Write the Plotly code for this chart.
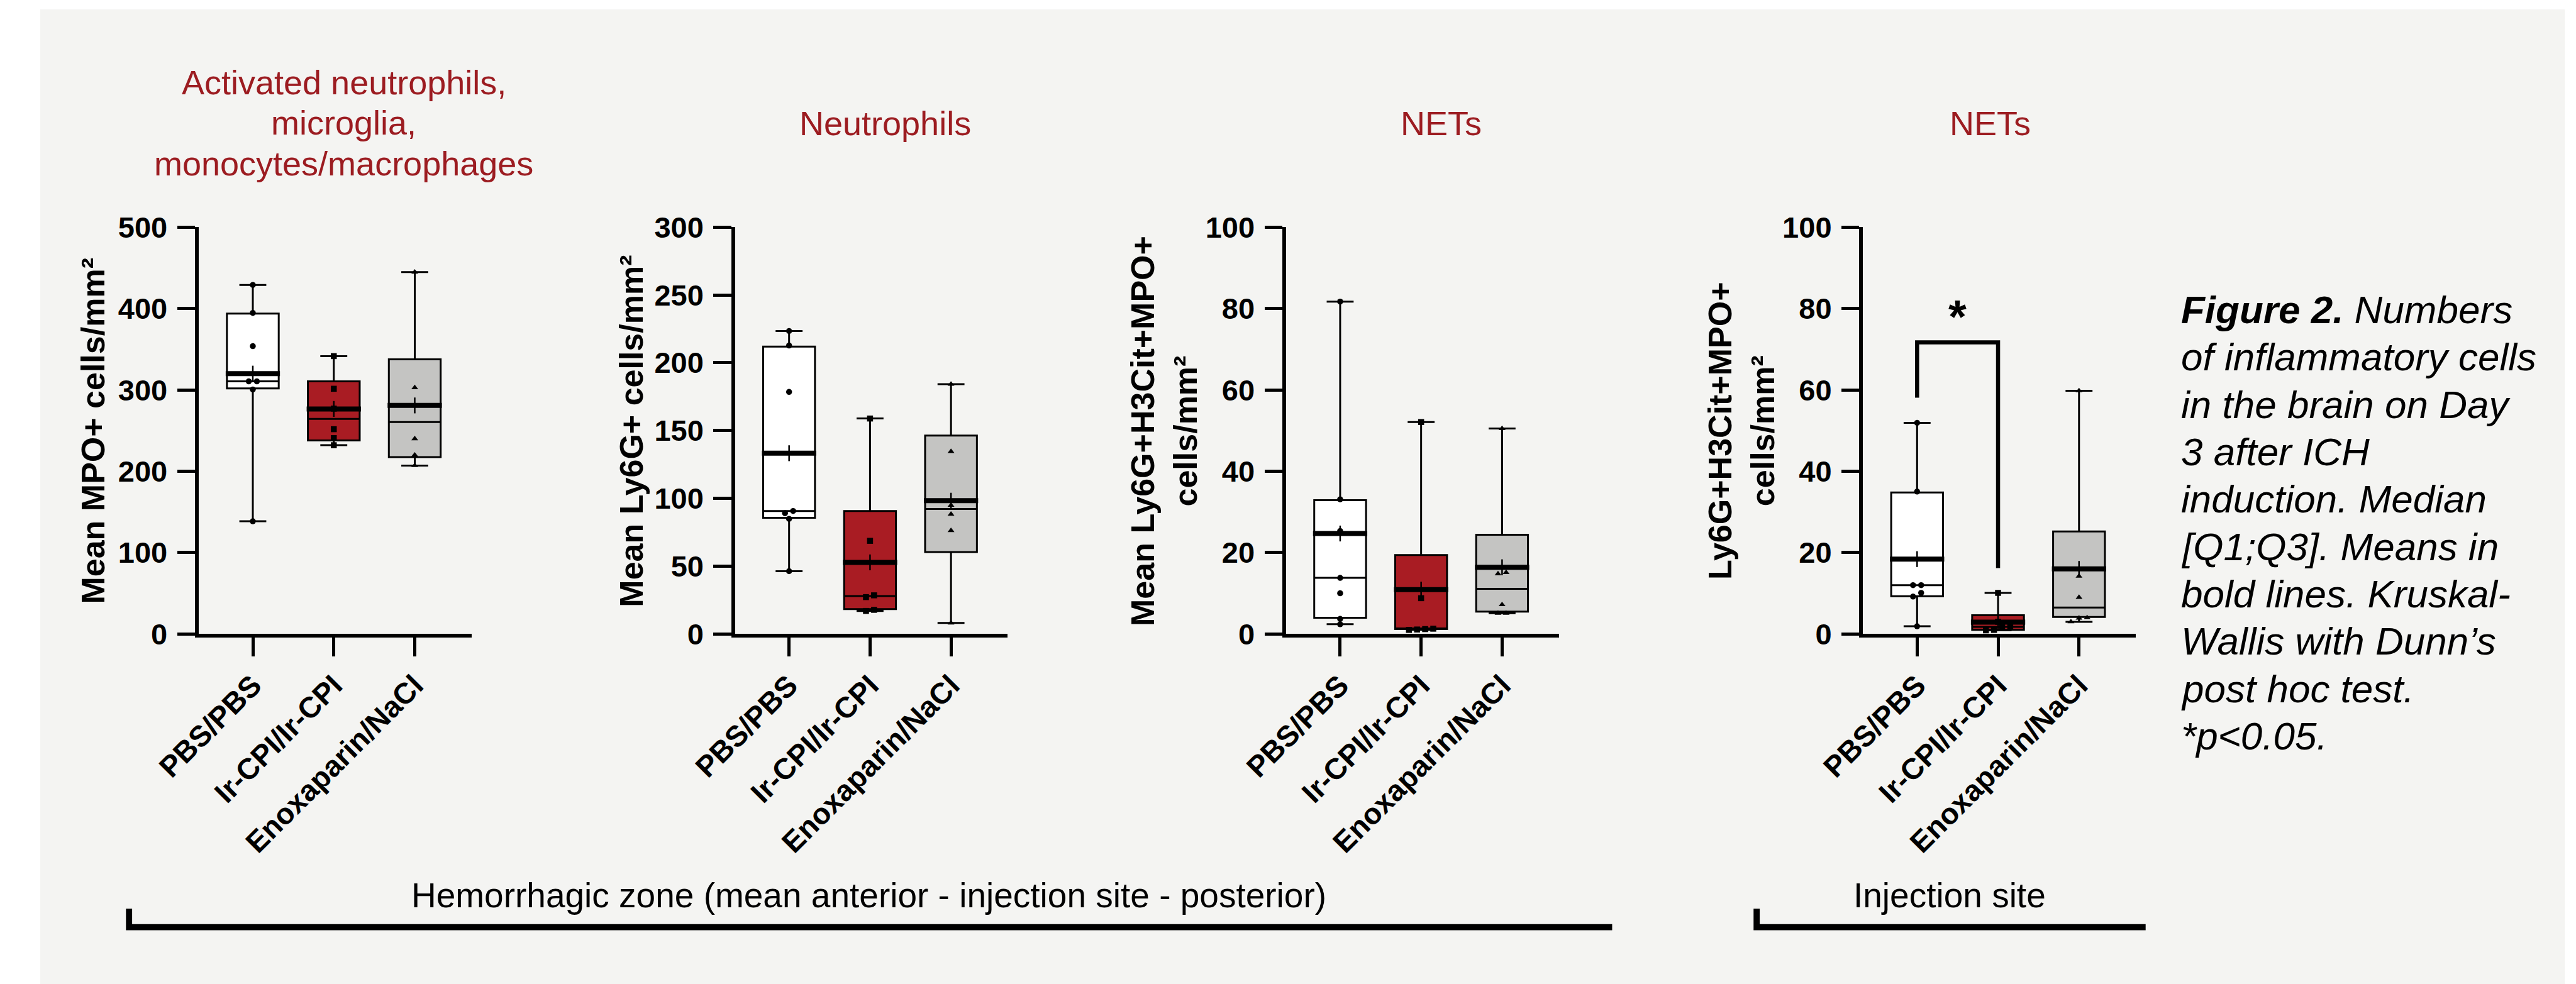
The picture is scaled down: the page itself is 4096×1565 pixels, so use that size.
import plotly.graph_objects as go

# ---------------- data ----------------
categories = ["PBS/PBS", "Ir-CPI/Ir-CPI", "Enoxaparin/NaCl"]

# Panel 1: Mean MPO+ cells/mm2 (hemorrhagic zone)
mpo_q1 = [301.8, 237.8, 217.3]
mpo_median = [310.5, 264.4, 260.5]
mpo_q3 = [393.7, 310.5, 337.5]
mpo_low = [138.5, 232.0, 206.9]
mpo_high = [429.0, 341.5, 444.7]
mpo_mean = [320.0, 276.6, 280.9]
mpo_pbs = [429.0, 394.6, 353.7, 310.5, 310.5, 300.5, 138.5]
mpo_ircpi = [341.5, 301.4, 277.0, 251.7, 240.8, 232.0]
mpo_enox = [444.7, 302.7, 281.0, 240.0, 220.0, 207.0]

# Panel 2: Mean Ly6G+ cells/mm2
ly6g_q1 = [85.7, 18.3, 60.4]
ly6g_median = [90.7, 28.0, 92.2]
ly6g_q3 = [211.9, 90.7, 146.3]
ly6g_low = [46.3, 17.0, 8.1]
ly6g_high = [223.4, 158.9, 184.2]
ly6g_mean = [133.3, 52.8, 98.3]
ly6g_pbs = [223.4, 212.7, 178.5, 90.7, 89.1, 84.9, 46.3]
ly6g_ircpi = [158.9, 68.7, 28.5, 27.2, 17.8, 17.0]
ly6g_enox = [184.2, 134.6, 94.9, 88.3, 76.3, 8.1]

# Panel 3: Mean Ly6G+H3Cit+MPO+ cells/mm2 (hemorrhagic zone)
nets_q1 = [4.0, 1.2, 5.5]
nets_median = [13.8, 1.3, 11.1]
nets_q3 = [32.9, 19.4, 24.4]
nets_low = [2.4, 1.0, 5.1]
nets_high = [81.7, 52.1, 50.5]
nets_mean = [24.7, 10.9, 16.4]
nets_pbs = [81.7, 33.1, 25.3, 13.8, 10.0, 3.7, 2.4]
nets_ircpi = [52.1, 8.8, 1.3, 1.2, 1.1, 1.0]
nets_enox = [50.5, 15.1, 14.8, 7.2, 5.1, 5.1]

# Panel 4: Ly6G+H3Cit+MPO+ cells/mm2 (injection site)
inj_q1 = [9.3, 1.0, 4.2]
inj_median = [12.0, 1.75, 6.5]
inj_q3 = [34.8, 4.6, 25.2]
inj_low = [1.9, 0.9, 3.0]
inj_high = [51.9, 10.1, 59.8]
inj_mean = [18.4, 2.9, 16.0]
inj_pbs = [51.9, 35.0, 12.0, 12.0, 10.1, 9.2, 1.9]
inj_ircpi = [10.1, 3.0, 1.8, 1.7, 1.0, 0.9]
inj_enox = [59.8, 14.2, 9.0, 4.0, 3.9, 3.0]

# significance bracket (PBS vs Ir-CPI, injection site)
sig_left_y = 58.1
sig_top_y = 71.7
sig_right_y = 16.2
sig_star_y = 78.0

titles = [["Activated neutrophils,", "microglia,", "monocytes/macrophages"],
          ["Neutrophils"], ["NETs"], ["NETs"]]
ytitles = ["Mean MPO+ cells/mm²", "Mean Ly6G+ cells/mm²",
           "Mean Ly6G+H3Cit+MPO+<br>cells/mm²", "Ly6G+H3Cit+MPO+<br>cells/mm²"]
ymax = [500, 300, 100, 100]
ydtick = [100, 50, 20, 20]

caption_lines = ["<b>Figure 2.</b> Numbers", "of inflammatory cells",
                 "in the brain on Day", "3 after ICH", "induction. Median",
                 "[Q1;Q3]. Means in", "bold lines. Kruskal-",
                 "Wallis with Dunn’s", "post hoc test.", "*p&lt;0.05."]

panels = [
    dict(q1=mpo_q1, med=mpo_median, q3=mpo_q3, lo=mpo_low, hi=mpo_high, mean=mpo_mean,
         pts=[mpo_pbs, mpo_ircpi, mpo_enox]),
    dict(q1=ly6g_q1, med=ly6g_median, q3=ly6g_q3, lo=ly6g_low, hi=ly6g_high, mean=ly6g_mean,
         pts=[ly6g_pbs, ly6g_ircpi, ly6g_enox]),
    dict(q1=nets_q1, med=nets_median, q3=nets_q3, lo=nets_low, hi=nets_high, mean=nets_mean,
         pts=[nets_pbs, nets_ircpi, nets_enox]),
    dict(q1=inj_q1, med=inj_median, q3=inj_q3, lo=inj_low, hi=inj_high, mean=inj_mean,
         pts=[inj_pbs, inj_ircpi, inj_enox]),
]

# ---------------- styling / layout ----------------
REF_W, REF_H = 4172, 1594
FIG_W, FIG_H = 4096, 1565
FONT = "Liberation Sans, Arial, Helvetica, sans-serif"
RED_TITLE = "#9c1c21"
fills = ["#ffffff", "#a91c23", "#c4c4c2"]
symbols = ["circle", "square", "triangle-up"]
BG = "#f4f4f2"


def px(x):
    return x / REF_W


def py(y):
    return 1 - y / REF_H


axis_x0 = [322, 1190.5, 2083, 3017.4]
axis_w = 441.5
y_zero_px, y_top_px = 1027, 368
xr = [-0.667, 2.70]

fig = go.Figure()
layout = dict(
    template="none",
    width=FIG_W, height=FIG_H, autosize=False,
    margin=dict(l=0, r=0, t=0, b=0, pad=0, autoexpand=False),
    paper_bgcolor="white", plot_bgcolor="rgba(0,0,0,0)",
    showlegend=False, boxmode="overlay",
    font=dict(family=FONT, color="black"),
)


def spread(vals, ytop):
    """x offsets so that near-equal values sit side by side."""
    order = sorted(range(len(vals)), key=lambda k: vals[k])
    offs = [0.0] * len(vals)
    groups, cur = [], [order[0]]
    for k in order[1:]:
        if abs(vals[k] - vals[cur[-1]]) < 0.012 * ytop:
            cur.append(k)
        else:
            groups.append(cur)
            cur = [k]
    groups.append(cur)
    step = 0.1
    for g in groups:
        n = len(g)
        for j, k in enumerate(g):
            offs[k] = (j - (n - 1) / 2) * step
    return offs


annotations = []
shapes = []

for p, pan in enumerate(panels):
    sfx = "" if p == 0 else str(p + 1)
    xa, ya = "x" + sfx, "y" + sfx
    for i in range(3):
        fig.add_trace(go.Box(
            x=[i], q1=[pan["q1"][i]], median=[pan["med"][i]], q3=[pan["q3"][i]],
            lowerfence=[pan["lo"][i]], upperfence=[pan["hi"][i]],
            width=0.64, whiskerwidth=0.52, fillcolor=fills[i],
            line=dict(color="black", width=3), boxpoints=False,
            xaxis=xa, yaxis=ya, hoverinfo="skip"))
    # mean (bold) lines
    mx, my = [], []
    for i in range(3):
        mx += [i - 0.335, i + 0.335, None]
        my += [pan["mean"][i], pan["mean"][i], None]
    fig.add_trace(go.Scatter(x=mx, y=my, mode="lines",
                             line=dict(color="black", width=8),
                             xaxis=xa, yaxis=ya, hoverinfo="skip", cliponaxis=False))
    fig.add_trace(go.Scatter(x=[0, 1, 2], y=pan["mean"], mode="markers",
                             marker=dict(symbol="line-ns", size=18,
                                         line=dict(color="black", width=2.5)),
                             xaxis=xa, yaxis=ya, hoverinfo="skip", cliponaxis=False))
    # individual points
    for i in range(3):
        vals = pan["pts"][i]
        offs = spread(vals, ymax[p])
        fig.add_trace(go.Scatter(
            x=[i + o for o in offs], y=vals, mode="markers",
            marker=dict(symbol=symbols[i], size=9.5, color="black"),
            xaxis=xa, yaxis=ya, hoverinfo="skip", cliponaxis=False))

    x0 = axis_x0[p]
    layout["xaxis" + sfx] = dict(
        domain=[px(x0), px(x0 + axis_w)], range=xr, anchor=ya, automargin=False,
        showline=True, linewidth=6, linecolor="black",
        ticks="outside", ticklen=29.5, tickwidth=5, tickcolor="black",
        tickvals=[0, 1, 2], ticktext=categories, tickangle=-45,
        tickfont=dict(family=FONT, size=47, color="black", weight="bold"),
        showgrid=False, zeroline=False, fixedrange=True)
    layout["yaxis" + sfx] = dict(
        domain=[py(y_zero_px), py(y_top_px)], range=[0, ymax[p]], anchor=xa, automargin=False,
        showline=True, linewidth=6, linecolor="black",
        ticks="outside", ticklen=28.5, tickwidth=5, tickcolor="black",
        tick0=0, dtick=ydtick[p], ticklabelstandoff=6,
        tickfont=dict(family=FONT, size=47, color="black", weight="bold"),
        showgrid=False, zeroline=False, fixedrange=True)

# significance bracket in panel 4
fig.add_trace(go.Scatter(x=[0, 0, 1, 1], y=[sig_left_y, sig_top_y, sig_top_y, sig_right_y],
                         mode="lines", line=dict(color="black", width=6.5),
                         xaxis="x4", yaxis="y4", hoverinfo="skip", cliponaxis=False))
annotations.append(dict(x=0.5, y=sig_star_y, xref="x4", yref="y4", text="<b>*</b>",
                        showarrow=False, font=dict(family=FONT, size=74, color="black"),
                        xanchor="center", yanchor="middle"))

# panel titles (one annotation per line for exact spacing)
title_cx = [557, 1434, 2334, 3223]
title_line_y = {1: [200], 3: [133, 199, 265]}
for lines, tx in zip(titles, title_cx):
    for line, ty in zip(lines, title_line_y[len(lines)]):
        annotations.append(dict(x=px(tx), y=py(ty), xref="paper", yref="paper", text=line,
                                showarrow=False, xanchor="center", yanchor="middle",
                                font=dict(family=FONT, size=54, color=RED_TITLE)))

# y-axis titles
ytitle_pos = [(151, 698), (1023, 698), (1886, 698), (2821, 698)]
for t, (tx, ty) in zip(ytitles, ytitle_pos):
    annotations.append(dict(x=px(tx), y=py(ty), xref="paper", yref="paper", text=t,
                            showarrow=False, textangle=-90, xanchor="center", yanchor="middle",
                            font=dict(family=FONT, size=52, color="black", weight="bold")))

# bottom group brackets + labels
for (bx0, bx1, label, lx) in [(209, 2611, "Hemorrhagic zone (mean anterior - injection site - posterior)", 1407),
                              (2845, 3475, "Injection site", 3158)]:
    shapes.append(dict(type="path", xref="paper", yref="paper",
                       path=f"M {px(bx0)},{py(1472)} L {px(bx0)},{py(1502)} L {px(bx1)},{py(1502)}",
                       line=dict(color="black", width=9.8)))
    annotations.append(dict(x=px(lx), y=py(1450), xref="paper", yref="paper", text=label,
                            showarrow=False, xanchor="center", yanchor="middle",
                            font=dict(family=FONT, size=55, color="black")))

# caption
for k, line in enumerate(caption_lines):
    base = 521.7 + 76.7 * k
    annotations.append(dict(x=px(3530), y=py(base - 20), xref="paper", yref="paper",
                            text="<i>" + line + "</i>", showarrow=False,
                            xanchor="left", yanchor="middle",
                            font=dict(family=FONT, size=62, color="black")))

# light grey panel background
shapes.insert(0, dict(type="rect", xref="paper", yref="paper", layer="below",
                      x0=px(65), x1=px(4154), y0=0, y1=py(15),
                      fillcolor=BG, line=dict(width=0)))

layout["annotations"] = annotations
layout["shapes"] = shapes
fig.update_layout(**layout)

fig.write_html("out.html", config={"displayModeBar": False},
               post_script="document.body.style.margin='0';")
